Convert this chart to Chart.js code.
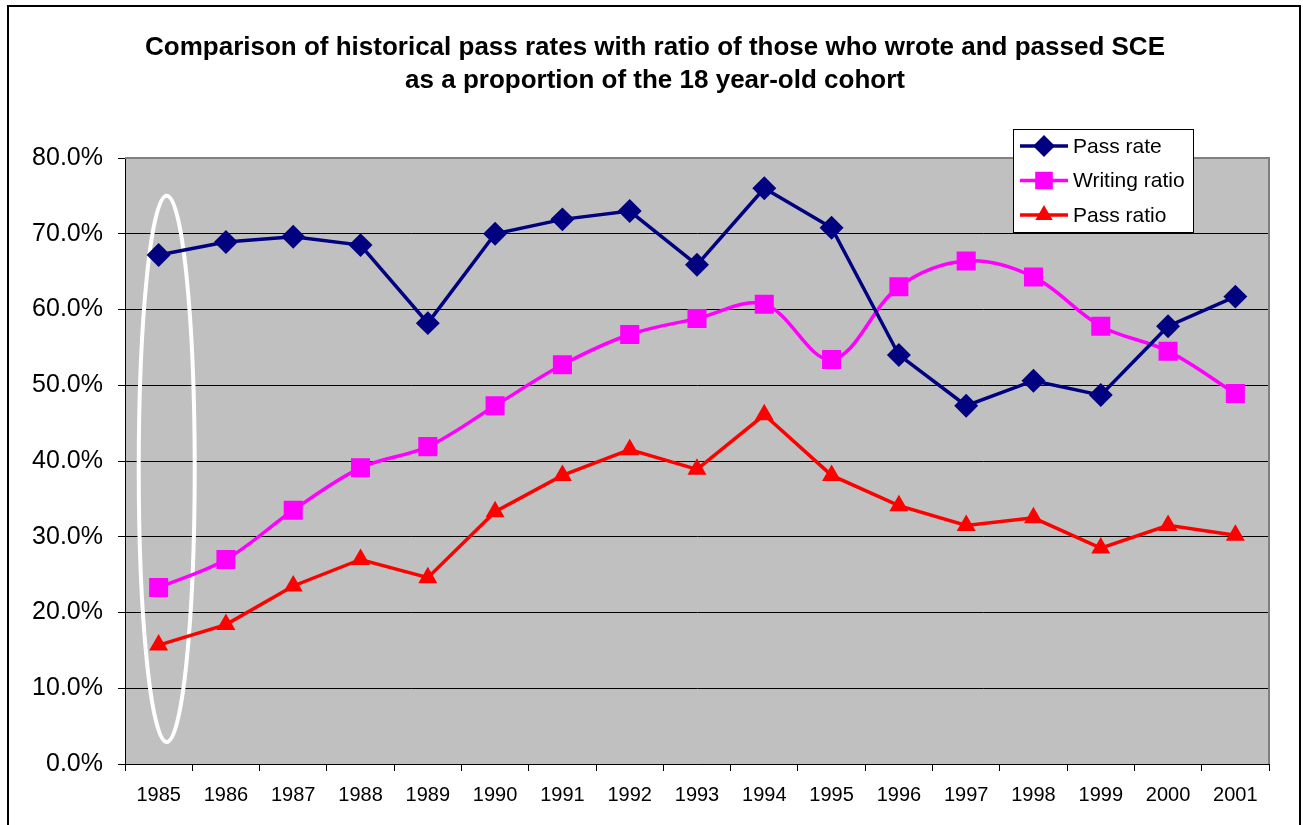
<!DOCTYPE html>
<html>
<head>
<meta charset="utf-8">
<script src="https://cdn.jsdelivr.net/npm/chart.js@4.4.1/dist/chart.umd.min.js"></script>
<style>
  html, body { margin: 0; padding: 0; background: #fff; }
  #wrap { width: 1303px; height: 825px; }
</style>
</head>
<body>
<div id="wrap"><canvas id="chart"></canvas></div>
<script>
// SCE results, 1985-2001 (percent)
const years = ["1985","1986","1987","1988","1989","1990","1991","1992","1993","1994","1995","1996","1997","1998","1999","2000","2001"];
const passRate     = [67.2, 68.9, 69.6, 68.5, 58.2, 70.0, 71.9, 73.0, 65.9, 76.0, 70.8, 54.0, 47.3, 50.6, 48.7, 57.8, 61.7];
const writingRatio = [23.3, 27.0, 33.5, 39.1, 41.9, 47.3, 52.7, 56.7, 58.8, 60.7, 53.4, 63.0, 66.4, 64.3, 57.8, 54.5, 48.9];
const passRatio    = [15.7, 18.4, 23.5, 27.0, 24.6, 33.3, 38.1, 41.5, 38.9, 46.1, 38.1, 34.1, 31.5, 32.5, 28.5, 31.5, 30.2];
const yTicks = [0, 10, 20, 30, 40, 50, 60, 70, 80];
const titleLines = [
  "Comparison of historical pass rates with ratio of those who wrote and passed SCE",
  "as a proportion of the 18 year-old cohort"
];

const FONT = "Arial, 'Liberation Sans', sans-serif";

// grey plot area, frame, title, highlight ellipse and the boxed legend
const decor = {
  id: "decor",
  beforeDraw(chart) {
    const { ctx, chartArea: a } = chart;
    ctx.save();
    ctx.fillStyle = "#c0c0c0";
    ctx.fillRect(a.left, a.top, a.right - a.left, a.bottom - a.top);
    ctx.restore();
  },
  beforeDatasetsDraw(chart) {
    const { ctx, chartArea: a, scales } = chart;
    ctx.save();
    // top and right plot border
    ctx.strokeStyle = "#808080";
    ctx.lineWidth = 2;
    ctx.beginPath();
    ctx.moveTo(a.left, a.top);
    ctx.lineTo(a.right, a.top);
    ctx.lineTo(a.right, a.bottom);
    ctx.stroke();
    // ellipse around the first year
    const step = scales.x.getPixelForValue(1) - scales.x.getPixelForValue(0);
    const cx = scales.x.getPixelForValue(0) + step * 0.12;
    const yTop = scales.y.getPixelForValue(75);
    const yBot = scales.y.getPixelForValue(2.9);
    ctx.strokeStyle = "#ffffff";
    ctx.lineWidth = 4;
    ctx.beginPath();
    ctx.ellipse(cx, (yTop + yBot) / 2, 28, (yBot - yTop) / 2, 0, 0, Math.PI * 2);
    ctx.stroke();
    ctx.restore();
  },
  afterDraw(chart) {
    const { ctx } = chart;
    ctx.save();
    // outer frame
    ctx.strokeStyle = "#000";
    ctx.lineWidth = 2;
    ctx.strokeRect(8, 6, 1292, 830);

    // title, centred in the frame
    ctx.fillStyle = "#000";
    ctx.font = "bold 26px " + FONT;
    ctx.textAlign = "center";
    ctx.textBaseline = "middle";
    titleLines.forEach((t, i) => ctx.fillText(t, 655, 48 + i * 33));

    // legend box
    const lx = 1013, ly = 129, lw = 180, lh = 103;
    ctx.fillStyle = "#fff";
    ctx.fillRect(lx, ly, lw, lh);
    ctx.strokeStyle = "#000";
    ctx.lineWidth = 1;
    ctx.strokeRect(lx + 0.5, ly + 0.5, lw, lh);
    ctx.font = "21px " + FONT;
    ctx.textAlign = "left";
    ctx.textBaseline = "middle";
    chart.data.datasets.forEach((ds, i) => {
      const y = ly + 17 + i * 34.5;
      ctx.strokeStyle = ds.borderColor;
      ctx.lineWidth = 3.5;
      ctx.beginPath();
      ctx.moveTo(lx + 7, y);
      ctx.lineTo(lx + 55, y);
      ctx.stroke();
      Chart.helpers.drawPoint(ctx, {
        pointStyle: ds.pointStyle,
        radius: ds.pointRadius - 1,
        borderWidth: 1
      }, lx + 31, y);
      ctx.fillStyle = ds.pointBackgroundColor;
      ctx.fill();
      ctx.fillStyle = "#000";
      ctx.fillText(ds.label, lx + 60, y + 1);
    });
    ctx.restore();
  }
};

new Chart(document.getElementById("chart"), {
  type: "line",
  data: {
    labels: years,
    datasets: [
      {
        label: "Pass rate",
        data: passRate,
        borderColor: "#000080",
        backgroundColor: "#000080",
        pointBackgroundColor: "#000080",
        pointBorderColor: "#000080",
        pointStyle: "rectRot",
        pointRadius: 9.5,
        borderWidth: 3.5,
        tension: 0
      },
      {
        label: "Writing ratio",
        data: writingRatio,
        borderColor: "#ff00ff",
        backgroundColor: "#ff00ff",
        pointBackgroundColor: "#ff00ff",
        pointBorderColor: "#ff00ff",
        pointStyle: "rect",
        pointRadius: 11,
        borderWidth: 3.5,
        tension: 0.35
      },
      {
        label: "Pass ratio",
        data: passRatio,
        borderColor: "#ff0000",
        backgroundColor: "#ff0000",
        pointBackgroundColor: "#ff0000",
        pointBorderColor: "#ff0000",
        pointStyle: "triangle",
        pointRadius: 7.5,
        borderWidth: 3.5,
        tension: 0
      }
    ]
  },
  options: {
    responsive: true,
    maintainAspectRatio: false,
    animation: false,
    layout: { padding: { left: 0, right: 34, top: 158, bottom: 0 } },
    plugins: {
      legend: { display: false },
      tooltip: { enabled: false },
      title: { display: false }
    },
    scales: {
      x: {
        type: "category",
        offset: true,
        grid: {
          offset: true,
          drawOnChartArea: false,
          color: "#000",
          tickLength: 7,
          lineWidth: 1
        },
        border: { color: "#000", width: 1 },
        ticks: {
          color: "#000",
          font: { family: FONT, size: 20 },
          padding: 12,
          maxRotation: 0,
          autoSkip: false
        },
        afterFit(scale) { scale.height = 61; }
      },
      y: {
        min: 0,
        max: 80,
        afterBuildTicks(scale) {
          scale.ticks = yTicks.map(v => ({ value: v }));
        },
        grid: {
          color: "#000",
          lineWidth: 1,
          tickLength: 7
        },
        border: { color: "#000", width: 1 },
        ticks: {
          color: "#000",
          font: { family: FONT, size: 25 },
          padding: 15,
          callback: v => v.toFixed(1) + "%"
        },
        afterFit(scale) { scale.width = 125; }
      }
    }
  },
  plugins: [decor]
});
</script>
</body>
</html>
